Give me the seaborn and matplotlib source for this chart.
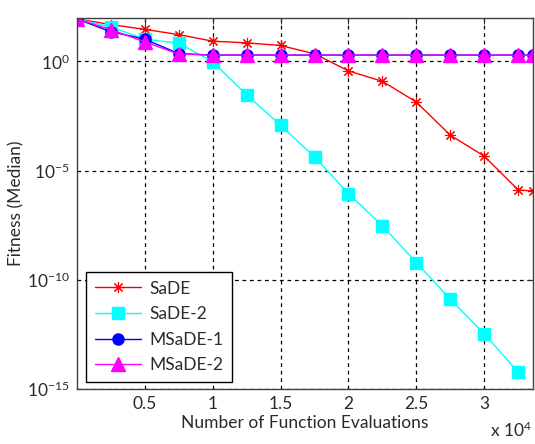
import numpy as np
import pandas as pd
import seaborn as sns
import matplotlib
matplotlib.use("Agg")
import matplotlib.pyplot as plt
from matplotlib.ticker import FixedLocator, FuncFormatter, NullLocator

# Function evaluations at which the median fitness was recorded
evals = [0, 2500, 5000, 7500, 10000, 12500, 15000, 17500, 20000,
         22500, 25000, 27500, 30000, 32500, 33600]
evals_sade2 = evals[:14]

sade = [89, 49, 29.5, 17, 8.5, 7.1, 5.4, 2.24, 0.37, 0.123, 0.0138,
        4.2e-4, 4.6e-5, 1.3e-6, 1.2e-6]
sade2 = [89, 38, 10.5, 6.9, 0.97, 0.030, 1.2e-3, 4.3e-5, 9e-7, 3.0e-8,
         6.2e-10, 1.3e-11, 3.4e-13, 5.9e-15]
msade1 = [89, 23, 10.5, 2.3, 1.95, 1.95, 1.95, 1.95, 1.95, 1.95, 1.95,
          1.95, 1.95, 1.95, 1.95]
msade2 = [89, 29, 7.9, 2.2, 1.95, 1.95, 1.95, 1.95, 1.95, 1.95, 1.95,
          1.95, 1.95, 1.95, 1.95]

x_ticks = [5000, 10000, 15000, 20000, 25000, 30000]
y_ticks = [1e-15, 1e-10, 1e-5, 1e0]

sns.set_style("white")
plt.rcParams["font.family"] = ["Lato", "DejaVu Sans"]
plt.rcParams["mathtext.fontset"] = "custom"
plt.rcParams["mathtext.rm"] = "Lato"
plt.rcParams["mathtext.it"] = "Lato:italic"

text_color = "#2a2a2a"
fs = 12.5

fig = plt.figure(figsize=(5.35, 4.44), dpi=100)
ax = fig.add_axes([0.1434, 0.1232, 0.9968 - 0.1434, 0.960 - 0.1232])

series = [
    ("SaDE", evals, sade, "#ff0000", (8, 2, 0), 8, 0.8),
    ("SaDE-2", evals_sade2, sade2, "#00ffff", "s", 8.5, 1.0),
    ("MSaDE-1", evals, msade1, "#0000ff", "o", 8, 1.0),
    ("MSaDE-2", evals, msade2, "#ff00ff", "^", 9.5, 1.0),
]

for name, xs, ys, col, mk, ms, mew in series:
    df = pd.DataFrame({"evals": xs, "fitness": ys})
    sns.lineplot(data=df, x="evals", y="fitness", ax=ax, color=col,
                 marker=mk, markersize=ms, markeredgecolor=col,
                 markerfacecolor=col, markeredgewidth=mew,
                 linewidth=1.0, label=name, clip_on=True)

ax.set_yscale("log")
ax.set_xlim(0, 33600)
ax.set_ylim(1e-15, 1e2)

ax.xaxis.set_major_locator(FixedLocator(x_ticks))
ax.xaxis.set_major_formatter(FuncFormatter(lambda v, p: f"{v / 1e4:g}"))
ax.yaxis.set_major_locator(FixedLocator(y_ticks))
ax.yaxis.set_major_formatter(
    FuncFormatter(lambda v, p: r"$10^{%d}$" % int(round(np.log10(v)))))
ax.yaxis.set_minor_locator(NullLocator())
ax.xaxis.set_minor_locator(NullLocator())

ax.grid(True, which="major", color="black", linestyle=(0, (3, 3)),
        linewidth=0.9)
ax.tick_params(direction="in", length=4, width=0.8, colors=text_color,
               labelsize=fs, top=True, right=True, pad=5)
for sp in ax.spines.values():
    sp.set_color("#404040")
    sp.set_linewidth(1.0)

ax.set_xlabel("Number of Function Evaluations", fontsize=fs,
              color=text_color, labelpad=2)
ax.set_ylabel("Fitness (Median)", fontsize=fs, color=text_color,
              labelpad=2)
fig.text(0.994, 0.008, r"x $10^{4}$", fontsize=fs, color=text_color,
         ha="right", va="bottom")

leg = ax.legend(loc="lower left", bbox_to_anchor=(0.02, 0.02),
                borderaxespad=0, fontsize=fs, frameon=True, fancybox=False,
                handlelength=2.7, labelspacing=0.55, borderpad=0.5,
                handletextpad=0.45)
leg.get_frame().set_edgecolor("black")
leg.get_frame().set_linewidth(1.0)
leg.get_frame().set_alpha(1)
for t in leg.get_texts():
    t.set_color(text_color)

fig.savefig("out.png", dpi=100)
